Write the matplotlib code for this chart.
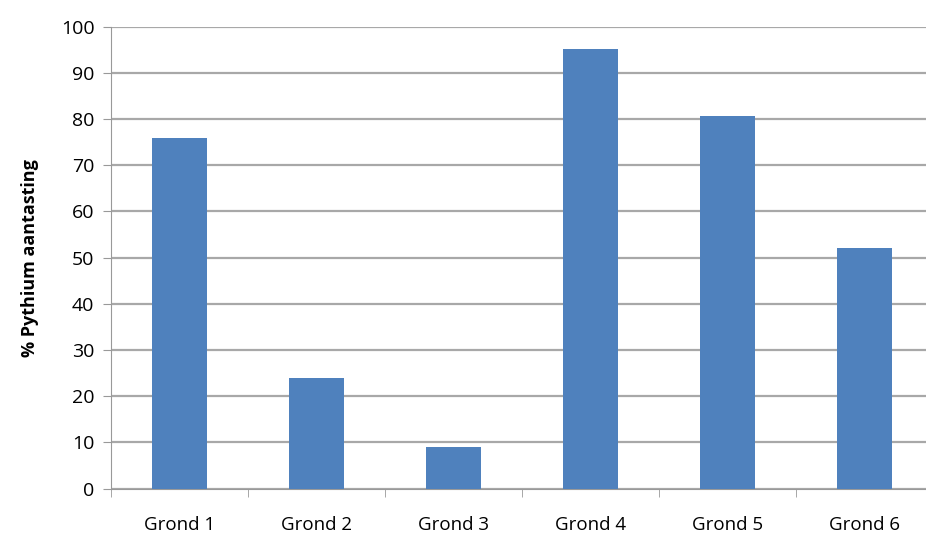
import matplotlib.pyplot as plt
import numpy as np

categories = ["Grond 1", "Grond 2", "Grond 3", "Grond 4", "Grond 5", "Grond 6"]
values = [75.8, 24, 9, 95.2, 80.7, 52]

plt.rcParams['font.family'] = ['Open Sans', 'DejaVu Sans']

fig = plt.figure(figsize=(9.26, 5.34), dpi=100)
ax = fig.add_axes([0.12, 0.085, 0.888, 0.865])

x = np.arange(len(categories))
ax.bar(x, values, width=0.4, color="#4f81bd", zorder=3)

ax.set_ylim(0, 100)
ax.set_xlim(-0.5, len(categories) - 0.5)
ax.set_yticks(range(0, 101, 10))
ax.yaxis.grid(True, color="#a8a8a8", linewidth=1.6, zorder=0)

ax.set_xticks(x)
ax.set_xticklabels(categories, fontsize=13.5)
ax.set_xticks(np.arange(-0.5, len(categories), 1), minor=True)
ax.tick_params(axis="x", which="major", length=0, pad=20)
ax.tick_params(axis="x", which="minor", length=6, color="#999999")
ax.tick_params(axis="y", length=6, color="#999999", labelsize=14, pad=6)

for s in ["top", "right"]:
    ax.spines[s].set_visible(False)
for s in ["left", "bottom"]:
    ax.spines[s].set_color("#999999")

ax.set_ylabel("% Pythium aantasting", fontsize=13, fontweight="bold", labelpad=16)

fig.savefig("out.png")
